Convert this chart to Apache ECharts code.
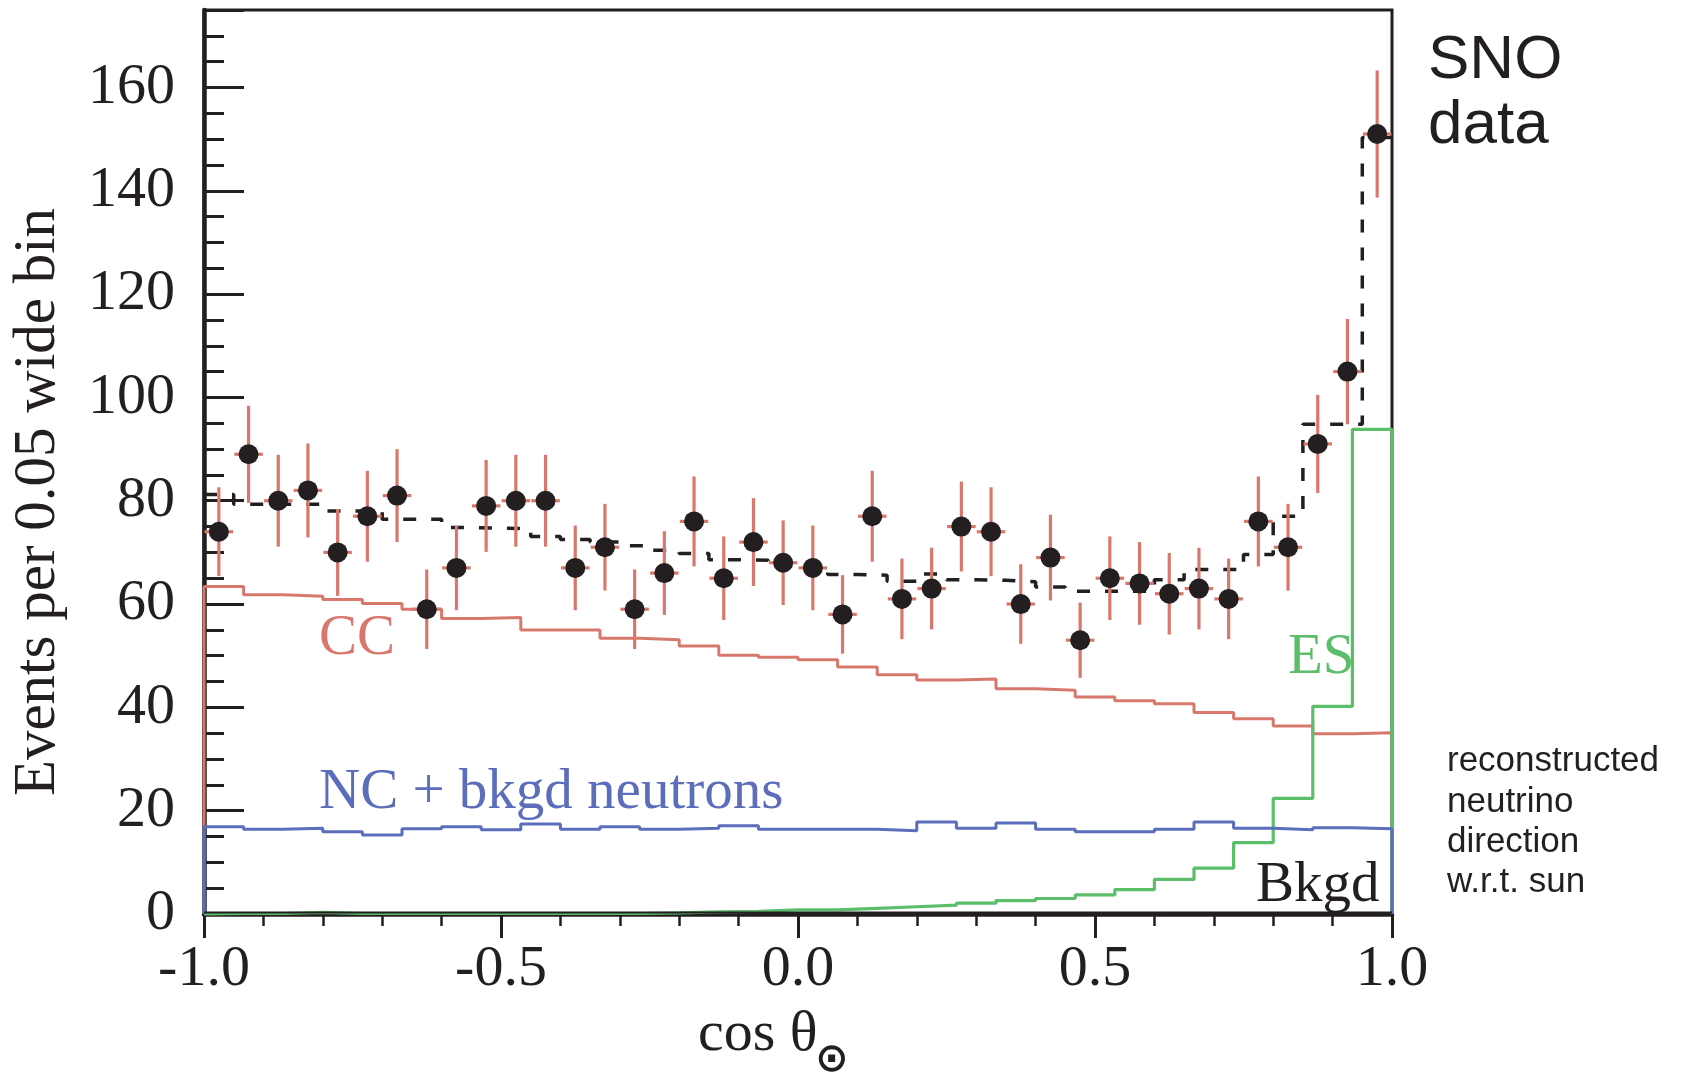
<!DOCTYPE html>
<html><head><meta charset="utf-8">
<script src="https://cdn.jsdelivr.net/npm/echarts@6/dist/echarts.min.js"></script>
<style>html,body{margin:0;padding:0;background:#fff}#c{width:1683px;height:1079px}</style>
</head><body><div id="c"></div>
<script>
// ---- data ----
// 40 data bins of width 0.05 in cos(theta_sun), -1.0 .. 1.0
const events = [74, 89, 80, 82, 70, 77, 81, 59, 67, 79, 80, 80, 67, 71, 59, 66, 76, 65, 72, 68,
                67, 58, 77, 61, 63, 75, 74, 60, 69, 53, 65, 64, 62, 63, 61, 76, 71, 91, 105, 151];
const errors = [8.6, 9.4, 8.9, 9.1, 8.4, 8.8, 9.0, 7.7, 8.2, 8.9, 8.9, 8.9, 8.2, 8.4, 7.7, 8.1, 8.7, 8.1, 8.5, 8.2,
                8.2, 7.6, 8.8, 7.8, 7.9, 8.7, 8.6, 7.7, 8.3, 7.3, 8.1, 8.0, 7.9, 7.9, 7.8, 8.7, 8.4, 9.5, 10.2, 12.3];
// total fit (dashed), same 40 bins
const totalFit = [81.2, 79.3, 79.3, 79.3, 78.0, 78.0, 76.4, 76.4, 74.8, 74.7, 74.6, 73.1, 72.5, 72.0, 71.3, 70.4, 69.8, 68.6, 68.5, 67.6,
                  67.0, 65.7, 65.6, 64.4, 65.8, 64.7, 64.6, 64.3, 63.3, 62.5, 62.5, 62.5, 64.7, 66.7, 66.7, 69.6, 77.0, 94.8, 94.8, 150.3];
// signal shapes, 30 bins each
const ccFit = [63.4, 61.8, 61.5, 60.9, 60.1, 59.0, 57.2, 57.4, 55.0, 55.0, 53.4, 53.1, 51.9, 50.1, 49.7,
               49.2, 47.8, 46.3, 45.3, 45.5, 43.6, 43.3, 42.0, 41.3, 40.7, 39.0, 37.8, 36.4, 34.9, 35.1];
const ncFit = [16.9, 16.4, 16.6, 15.9, 15.3, 16.5, 16.9, 16.3, 17.4, 16.4, 16.9, 16.4, 16.6, 17.1, 16.4,
               16.4, 16.4, 16.1, 17.8, 16.6, 17.6, 16.4, 15.9, 15.9, 16.4, 17.8, 16.6, 16.3, 16.7, 16.5];
const esFit = [0.1, 0.1, 0.3, 0.1, 0.1, 0.1, 0.1, 0.1, 0.1, 0.1, 0.1, 0.2, 0.4, 0.5, 0.8,
               0.8, 1.1, 1.4, 1.7, 2.1, 2.6, 3.0, 3.7, 4.7, 6.7, 8.9, 13.8, 22.4, 40.2, 93.8];
const bkgdFit = [0.3, 0.3, 0.3, 0.3, 0.3, 0.3, 0.3, 0.3, 0.3, 0.3, 0.3, 0.3, 0.3, 0.3, 0.3,
                 0.3, 0.3, 0.3, 0.3, 0.3, 0.3, 0.3, 0.3, 0.3, 0.3, 0.3, 0.3, 0.3, 0.3, 0.3];
const xTickLabels = ['-1.0', '-0.5', '0.0', '0.5', '1.0'];
const yTickLabels = ['0', '20', '40', '60', '80', '100', '120', '140', '160'];

// ---- styles ----
const BLACK = '#231f20', RED = '#d8786c', BLUE = '#5b6dbb', GREEN = '#5cbd6a';
const SERIF = '"Liberation Serif", "Times New Roman", serif';
const SANS = '"Liberation Sans", Arial, sans-serif';

function histPath(vals, closeEnds) {
  const n = vals.length, w = 2 / n, pts = [];
  if (closeEnds) pts.push([-1, 0]);
  for (let i = 0; i < n; i++) pts.push([-1 + i * w, vals[i]]);
  pts.push([1, vals[n - 1]]);
  if (closeEnds) pts.push([1, 0]);
  return pts;
}
const binW = 2 / events.length;
const pointData = events.map((v, i) => [-1 + (i + 0.5) * binW, v, errors[i]]);

function stepSeries(name, vals, color, width, closeEnds, dashed, z) {
  return {
    name, type: 'line', step: 'end', data: histPath(vals, closeEnds), symbol: 'none', clip: false, z,
    lineStyle: { color, width, type: dashed ? [13, 15] : 'solid', cap: 'butt' }, silent: true
  };
}

function txt(x, y, text, font, fill, extra, align) {
  const a = align || 'left';
  return Object.assign({ type: 'text', x, y,
    style: { text, font, fill, align: a, verticalAlign: 'middle', textAlign: a, textVerticalAlign: 'middle' } }, extra || {});
}

const chart = echarts.init(document.getElementById('c'), null, { renderer: 'canvas' });
chart.setOption({
  animation: false,
  backgroundColor: '#fff',
  grid: { left: 204, right: 291, top: 10, bottom: 165, show: true, borderColor: BLACK, borderWidth: 3, backgroundColor: 'transparent' },
  xAxis: {
    type: 'value', min: -1, max: 1, interval: 0.5,
    axisLine: { onZero: false, lineStyle: { color: BLACK, width: 4.5 } },
    axisTick: { length: 24, lineStyle: { color: BLACK, width: 3 } },
    minorTick: { show: true, splitNumber: 5, length: 12, lineStyle: { color: BLACK, width: 2.5 } },
    splitLine: { show: false }, minorSplitLine: { show: false },
    axisLabel: {
      showMinLabel: true, showMaxLabel: true, margin: 27, color: BLACK, fontFamily: SERIF, fontSize: 58,
      formatter: v => xTickLabels[Math.round((v + 1) / 0.5)]
    }
  },
  yAxis: [{
    type: 'value', min: 0, max: 175, interval: 20, position: 'left',
    axisLine: { show: true, onZero: false, lineStyle: { color: BLACK, width: 4.5 } },
    axisTick: { inside: true, length: 40, lineStyle: { color: BLACK, width: 3 } },
    splitLine: { show: false },
    axisLabel: {
      margin: 29, color: BLACK, fontFamily: SERIF, fontSize: 58,
      formatter: v => (v % 20 === 0 && v <= 160) ? yTickLabels[v / 20] : ''
    }
  }, {
    type: 'value', min: 0, max: 175, interval: 5, position: 'left',
    axisLine: { show: false, onZero: false },
    axisTick: { show: true, inside: true, length: 20, lineStyle: { color: BLACK, width: 3 } },
    axisLabel: { show: false }, splitLine: { show: false }
  }],
  series: [
    stepSeries('CC', ccFit, RED, 3, true, false, 2),
    stepSeries('ES', esFit, GREEN, 3.2, true, false, 3),
    stepSeries('NC', ncFit, BLUE, 3, true, false, 4),
    stepSeries('Bkgd', bkgdFit, BLACK, 2, false, false, 4),
    stepSeries('Total', totalFit, BLACK, 3.5, false, true, 5),
    {
      name: 'err', type: 'custom', z: 6, silent: true, data: pointData, encode: { x: 0, y: 1 },
      renderItem(params, api) {
        const x = api.value(0), y = api.value(1), e = api.value(2), h = binW * 0.48;
        const t = api.coord([x, y + e]), b = api.coord([x, y - e]);
        const l = api.coord([x - h, y]), r = api.coord([x + h, y]);
        return { type: 'group', children: [
          { type: 'line', shape: { x1: t[0], y1: t[1], x2: b[0], y2: b[1] }, style: { stroke: RED, lineWidth: 3.2 } },
          { type: 'line', shape: { x1: l[0], y1: l[1], x2: r[0], y2: r[1] }, style: { stroke: RED, lineWidth: 3.2 } }
        ]};
      }
    },
    {
      name: 'data', type: 'scatter', z: 7, silent: true, data: pointData.map(p => [p[0], p[1]]),
      symbol: 'circle', symbolSize: 20, itemStyle: { color: BLACK, opacity: 1 }
    }
  ],
  graphic: [
    txt(38, 502, 'Events per 0.05 wide bin', '59px ' + SERIF, BLACK, { rotation: Math.PI / 2 }, 'center'),
    txt(698, 1035, 'cos θ', '58px ' + SERIF, BLACK),
    txt(815, 1061, '⊙', 'bold 40px "DejaVu Sans"', BLACK),
    txt(319, 639, 'CC', '57px ' + SERIF, RED),
    txt(319, 793, 'NC + bkgd neutrons', '57px ' + SERIF, BLUE),
    txt(1288, 658, 'ES', '57px ' + SERIF, GREEN),
    txt(1256, 886, 'Bkgd', '57px ' + SERIF, BLACK),
    txt(1428, 61, 'SNO', '62px ' + SANS, BLACK),
    txt(1428, 126, 'data', '62px ' + SANS, BLACK),
    txt(1447, 761, 'reconstructed', '35px ' + SANS, BLACK),
    txt(1447, 802, 'neutrino', '35px ' + SANS, BLACK),
    txt(1447, 842, 'direction', '35px ' + SANS, BLACK),
    txt(1447, 882, 'w.r.t. sun', '35px ' + SANS, BLACK)
  ]
});
</script></body></html>
